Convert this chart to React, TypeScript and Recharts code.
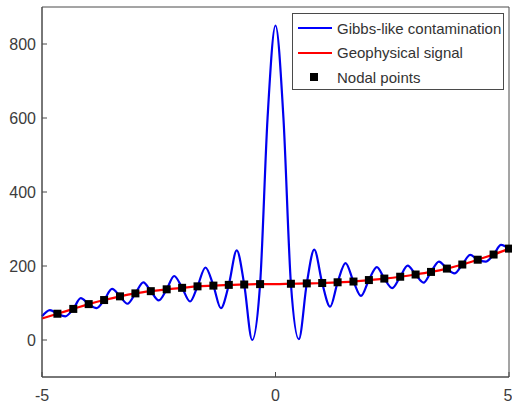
import { ComposedChart, Line, Scatter, XAxis, YAxis, Legend, ReferenceArea } from "recharts";

// geophysical signal (red)
const signalX = [-5, -4.67, -4.33, -4, -3.67, -3.33, -3, -2.67, -2.33, -2, -1.67, -1.33, -1, -0.67, -0.33, 0, 0.33, 0.67, 1, 1.33, 1.67, 2, 2.33, 2.67, 3, 3.33, 3.67, 4, 4.33, 4.67, 5];
const signalY = [58, 71, 84, 97, 108, 118, 126, 132, 137, 141, 145, 147, 149, 150, 151, 151, 152, 153, 154, 156, 158, 162, 166, 171, 177, 184, 193, 204, 217, 231, 247];

// Gibbs-like contamination (blue): nodes + extrema between them
const gibbsX = [-5, -4.83, -4.67, -4.5, -4.33, -4.17, -4, -3.83, -3.67, -3.5, -3.33, -3.17, -3, -2.83, -2.67, -2.5, -2.33, -2.17, -2, -1.83, -1.67, -1.5, -1.33, -1.17, -1, -0.83, -0.67, -0.5, -0.33, -0.17, 0, 0.17, 0.33, 0.5, 0.67, 0.83, 1, 1.17, 1.33, 1.5, 1.67, 1.83, 2, 2.17, 2.33, 2.5, 2.67, 2.83, 3, 3.17, 3.33, 3.5, 3.67, 3.83, 4, 4.17, 4.33, 4.5, 4.67, 4.83, 5];
const gibbsY = [64, 81, 71, 64, 84, 113, 97, 86, 108, 138, 118, 98, 126, 156, 132, 107, 137, 173, 141, 104, 145, 196, 147, 86, 149, 242, 150, 0, 151, 600, 850, 600, 152, 2, 153, 244, 154, 90, 156, 208, 158, 119, 162, 197, 166, 140, 171, 201, 177, 155, 184, 212, 193, 180, 204, 230, 217, 212, 231, 257, 247];

// nodal points (black squares)
const nodeX = [-4.67, -4.33, -4, -3.67, -3.33, -3, -2.67, -2.33, -2, -1.67, -1.33, -1, -0.67, -0.33, 0.33, 0.67, 1, 1.33, 1.67, 2, 2.33, 2.67, 3, 3.33, 3.67, 4, 4.33, 4.67, 5];
const nodeY = [71, 84, 97, 108, 118, 126, 132, 137, 141, 145, 147, 149, 150, 151, 152, 153, 154, 156, 158, 162, 166, 171, 177, 184, 193, 204, 217, 231, 247];

const xTicks = [-5, 0, 5];
const yTicks = [0, 200, 400, 600, 800];

const signalData = signalX.map((x, i) => ({ x, y: signalY[i] }));
const gibbsData = gibbsX.map((x, i) => ({ x, y: gibbsY[i] }));
const nodeData = nodeX.map((x, i) => ({ x, y: nodeY[i] }));

const FONT = '"Liberation Sans", Arial, Helvetica, sans-serif';
const AXIS = "#4a4a4a";
const tickStyle = { fontFamily: FONT, fontSize: 16, fill: "#3c3c3c" };

const Square = (props: any) => {
  const { cx, cy } = props;
  return <rect x={cx - 4} y={cy - 4} width={8} height={8} fill="#000" />;
};

const LegendBox = () => {
  const rows = [
    { label: "Gibbs-like contamination", color: "#0000ff", marker: false },
    { label: "Geophysical signal", color: "#ff0000", marker: false },
    { label: "Nodal points", color: "#000", marker: true },
  ];
  return (
    <div
      style={{
        width: 212,
        height: 77,
        border: `1px solid ${AXIS}`,
        background: "#fff",
        paddingTop: 2,
        boxSizing: "border-box",
        fontFamily: FONT,
        fontSize: 15,
        color: "#333",
      }}
    >
      {rows.map((r) => (
        <div key={r.label} style={{ display: "flex", alignItems: "center", height: 24.5 }}>
          <svg width={44} height={10} style={{ flex: "none" }}>
            {r.marker ? (
              <rect x={17} y={1} width={8} height={8} fill="#000" />
            ) : (
              <line x1={5} x2={39} y1={5} y2={5} stroke={r.color} strokeWidth={2} />
            )}
          </svg>
          <span style={{ whiteSpace: "nowrap" }}>{r.label}</span>
        </div>
      ))}
    </div>
  );
};

export default function App() {
  return (
    <div style={{ position: "absolute", left: 0, top: 0 }}>
      <ComposedChart width={512} height={405} margin={{ top: 7, right: 3, bottom: 0, left: 0 }}>
        <XAxis
          dataKey="x"
          type="number"
          domain={[-5, 5]}
          ticks={xTicks}
          height={28}
          tickSize={-5}
          tickMargin={18}
          tick={tickStyle}
          stroke={AXIS}
        />
        <XAxis
          xAxisId="top"
          orientation="top"
          type="number"
          domain={[-5, 5]}
          ticks={xTicks}
          height={0}
          tickSize={-5}
          tick={false}
          stroke={AXIS}
        />
        <YAxis
          type="number"
          domain={[-100, 900]}
          ticks={yTicks}
          width={42}
          tickSize={-5}
          tickMargin={11}
          tick={tickStyle}
          stroke={AXIS}
        />
        <YAxis
          yAxisId="right"
          orientation="right"
          type="number"
          domain={[-100, 900]}
          ticks={yTicks}
          width={0}
          tickSize={-5}
          tick={false}
          stroke={AXIS}
        />
        {/* plot frame */}
        <ReferenceArea x1={-5} x2={5} y1={-100} y2={900} fill="none" stroke={AXIS} strokeWidth={1} fillOpacity={0} />
        <Legend
          layout="vertical"
          align="center"
          verticalAlign="middle"
          content={() => <LegendBox />}
          wrapperStyle={{ left: 292, top: 13, width: 212 }}
        />
        <Line
          data={gibbsData}
          dataKey="y"
          type="monotone"
          stroke="#0000f0"
          strokeWidth={2.2}
          dot={false}
          isAnimationActive={false}
        />
        <Line
          data={signalData}
          dataKey="y"
          type="monotone"
          stroke="#ff0000"
          strokeWidth={2.2}
          dot={false}
          isAnimationActive={false}
        />
        <Scatter data={nodeData} dataKey="y" shape={Square} fill="#000" isAnimationActive={false} />
      </ComposedChart>
    </div>
  );
}
